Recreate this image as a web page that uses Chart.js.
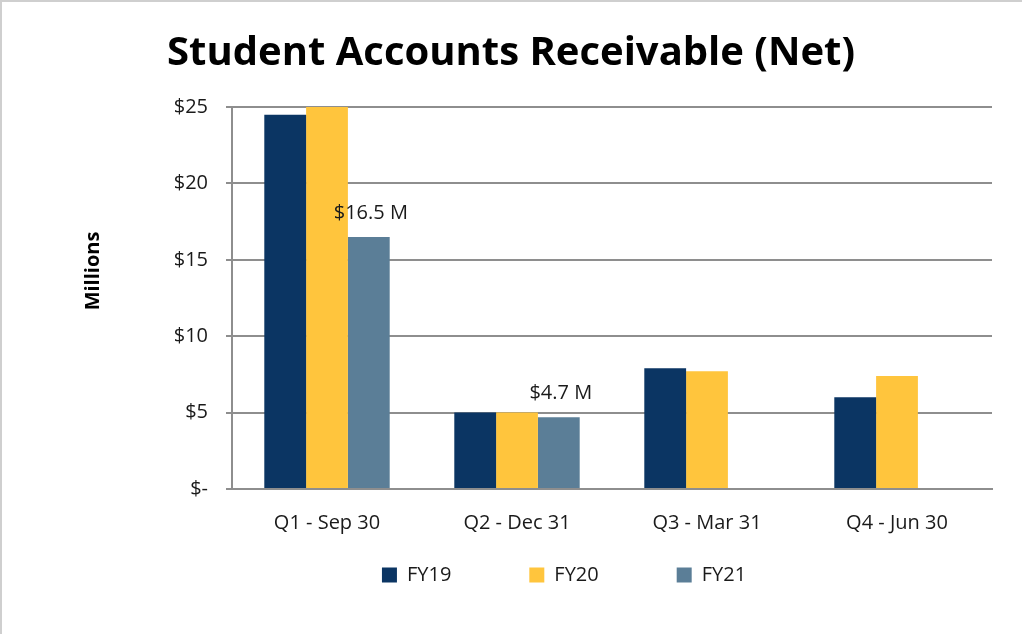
<!DOCTYPE html>
<html>
<head>
<meta charset="utf-8">
<script src="https://cdn.jsdelivr.net/npm/chart.js@4"></script>
<style>
  html, body { margin: 0; padding: 0; background: #fff; }
  #wrap { width: 1022px; height: 634px; }
</style>
</head>
<body>
<div id="wrap"><canvas id="chart" width="1022" height="634"></canvas></div>
<script>
// data (millions)
const quarters = ['Q1 - Sep 30', 'Q2 - Dec 31', 'Q3 - Mar 31', 'Q4 - Jun 30'];
const fy19 = [24.5, 5.0, 7.9, 6.0];
const fy20 = [25.0, 5.0, 7.7, 7.4];
const fy21 = [16.5, 4.7, null, null];
const fy21Labels = ['$16.5 M', '$4.7 M', null, null];
const yTickLabels = ['$-', '$5', '$10', '$15', '$20', '$25'];

const FONT = "'Open Sans', 'Noto Sans', sans-serif";
const gridGray = '#8e8e8e';

// white background, thin frame top/left, and the rotated axis title
const framePlugin = {
  id: 'frame',
  beforeDraw(chart) {
    const ctx = chart.ctx;
    ctx.save();
    ctx.fillStyle = '#fff';
    ctx.fillRect(0, 0, chart.width, chart.height);
    ctx.strokeStyle = '#cfcfcf';
    ctx.lineWidth = 2;
    ctx.beginPath();
    ctx.moveTo(chart.width, 1);
    ctx.lineTo(1, 1);
    ctx.lineTo(1, chart.height);
    ctx.stroke();
    ctx.restore();
  },
  afterDraw(chart) {
    const ctx = chart.ctx;
    ctx.save();
    ctx.translate(93, 271);
    ctx.rotate(-Math.PI / 2);
    ctx.font = 'bold 20px ' + FONT;
    ctx.fillStyle = '#000';
    ctx.textAlign = 'center';
    ctx.textBaseline = 'middle';
    ctx.fillText('Millions', 0, 0);
    ctx.restore();
  }
};

// move title / legend boxes (Excel centres them differently)
const nudgePlugin = {
  id: 'nudge',
  afterLayout(chart) {
    const t = chart.titleBlock;
    if (t) { t.left += 15; t.right += 15; }
    const l = chart.legend;
    if (l) { l.left += 68; l.right += 68; l.top -= 48; l.bottom -= 48; }
  }
};

// value labels over the FY21 bars
const barLabelPlugin = {
  id: 'barLabels',
  afterDatasetsDraw(chart) {
    const ctx = chart.ctx;
    const meta = chart.getDatasetMeta(2);
    ctx.save();
    ctx.font = '20px ' + FONT;
    ctx.fillStyle = '#1a1a1a';
    ctx.textAlign = 'center';
    ctx.textBaseline = 'alphabetic';
    meta.data.forEach((bar, i) => {
      if (!fy21Labels[i]) return;
      ctx.fillText(fy21Labels[i], bar.x + 2, bar.y - 18);
    });
    ctx.restore();
  }
};

new Chart(document.getElementById('chart'), {
  type: 'bar',
  data: {
    labels: quarters,
    datasets: [
      { label: 'FY19', data: fy19, backgroundColor: '#0b3563', borderWidth: 0 },
      { label: 'FY20', data: fy20, backgroundColor: '#ffc53d', borderWidth: 0 },
      { label: 'FY21', data: fy21, backgroundColor: '#5b7e97', borderWidth: 0 }
    ]
  },
  options: {
    responsive: false,
    animation: false,
    categoryPercentage: 0.66,
    barPercentage: 1.0,
    layout: { padding: { left: 0, right: 30, top: 0, bottom: 0 } },
    scales: {
      x: {
        grid: { display: false, drawTicks: false },
        border: { color: gridGray, width: 2 },
        ticks: { padding: 22, color: '#1a1a1a', font: { family: FONT, size: 20 } },
        afterFit(scale) { scale.height = 46; }
      },
      y: {
        min: 0,
        max: 25,
        ticks: {
          stepSize: 5,
          padding: 18,
          color: '#1a1a1a',
          font: { family: FONT, size: 20 },
          callback: (v, i) => yTickLabels[i]
        },
        grid: { color: gridGray, lineWidth: 2, tickLength: 6 },
        border: { color: gridGray, width: 2 },
        afterFit(scale) { scale.width = 232; }
      }
    },
    plugins: {
      title: {
        display: true,
        text: 'Student Accounts Receivable (Net)',
        color: '#000',
        padding: { top: 30, bottom: 29 },
        font: { family: FONT, size: 40, weight: 'bold' }
      },
      legend: {
        position: 'bottom',
        maxHeight: 99,
        labels: {
          boxWidth: 15,
          boxHeight: 15,
          padding: 78,
          color: '#1a1a1a',
          font: { family: FONT, size: 20 }
        }
      },
      tooltip: { enabled: false }
    }
  },
  plugins: [framePlugin, nudgePlugin, barLabelPlugin]
});
</script>
</body>
</html>
